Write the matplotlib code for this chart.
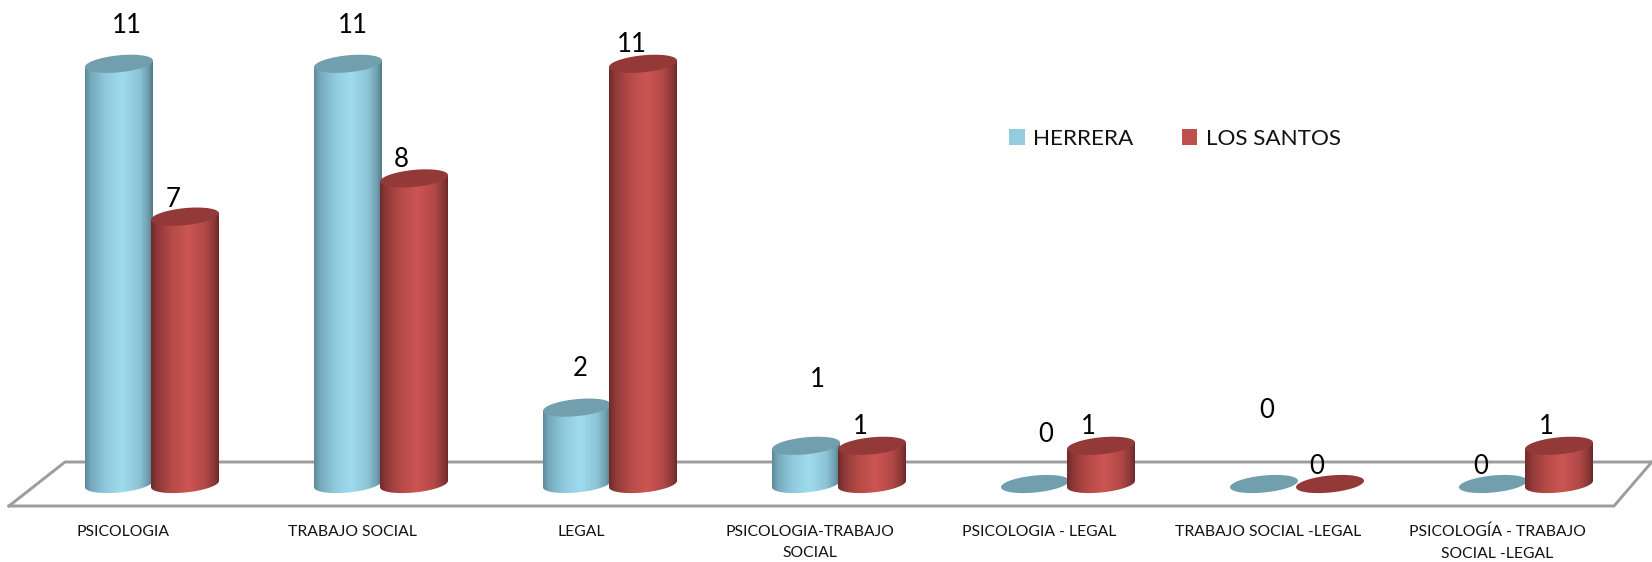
import numpy as np
import matplotlib
matplotlib.use("Agg")
import matplotlib.pyplot as plt
from matplotlib.colors import LinearSegmentedColormap
from matplotlib.patches import Patch, PathPatch
from matplotlib.path import Path

categories = ["PSICOLOGIA", "TRABAJO SOCIAL", "LEGAL", "PSICOLOGIA-TRABAJO\nSOCIAL",
              "PSICOLOGIA - LEGAL", "TRABAJO SOCIAL -LEGAL", "PSICOLOGÍA - TRABAJO\nSOCIAL -LEGAL"]
herrera = [11, 11, 2, 1, 0, 0, 0]
los_santos = [7, 8, 11, 1, 1, 0, 1]
series_names = ["HERRERA", "LOS SANTOS"]

# layout (pixels)
W, H = 1652, 562
PX_X, PX_Y = 229.0, 38.2
X0, Y0 = 151.0, 484.0
FRONT = 506.0
BAR_W = 68
ELL_H = 8.5
TILT = 3.2
herrera_off = [(9, -38), (6, -38), (4, -39), (12, -66), (12, -49), (4, -74), (-11, -17)]
santos_off = [(-12, -17), (-13, -19), (-11, -19), (-12, -19), (-13, -19), (-13, -17), (-13, -19)]

plt.rcParams["font.family"] = ["Lato", "DejaVu Sans"]
fig = plt.figure(figsize=(W / 100, H / 100), dpi=100)
ax = fig.add_axes([0, (H - FRONT) / H, 1, FRONT / H])
xlim = (-X0 / PX_X, (W - X0) / PX_X)
ylim = ((Y0 - FRONT) / PX_Y, Y0 / PX_Y)


def px(x, y):
    return (x - X0) / PX_X, (Y0 - y) / PX_Y


floor = [px(9, FRONT), px(65, 462), px(W + 5, 462)]
ax.plot(*zip(*floor), color="#9c9c9c", lw=2.1, clip_on=False, zorder=1, solid_joinstyle="miter")
front = [px(9, FRONT), px(1614, FRONT), px(W + 5, 456)]
ax.plot(*zip(*front), color="#9c9c9c", lw=2.1, clip_on=False, zorder=1, solid_joinstyle="miter")

blue_cm = LinearSegmentedColormap.from_list("b", [(0, "#5d8a9a"), (.08, "#74a8ba"), (.3, "#8fcadc"),
                                                  (.55, "#9fdbee"), (.8, "#8cc4d6"), (.93, "#6f9fb0"), (1, "#517a89")])
red_cm = LinearSegmentedColormap.from_list("r", [(0, "#6f2b2a"), (.1, "#913a39"), (.3, "#b54a48"),
                                                 (.55, "#cc5553"), (.8, "#b24947"), (.93, "#8c3938"), (1, "#6d2a29")])


def cylinder(center_px, value, cmap, top_color, z):
    t = np.linspace(0, 2 * np.pi, 80)
    a = BAR_W / 2
    ex = a * np.cos(t)
    ey = ELL_H * np.sin(t) - TILT * np.cos(t)
    base_y = -value * PX_Y
    if value > 0:
        lo = np.linspace(0, np.pi, 40)
        xs = np.r_[a * np.cos(lo), -a, a]
        ys = np.r_[ELL_H * np.sin(lo) - TILT * np.cos(lo), base_y + TILT, base_y - TILT]
        dx = (center_px + xs - X0) / PX_X
        dy = (Y0 - (Y0 + ys)) / PX_Y
        verts = np.c_[dx, dy]
        path = Path(np.r_[verts, verts[:1]], closed=True)
        patch = PathPatch(path, fc="none", ec="none", transform=ax.transData)
        ax.add_patch(patch)
        l, r = (center_px - a - X0) / PX_X, (center_px + a - X0) / PX_X
        im = ax.imshow(np.linspace(0, 1, 200)[None, :], cmap=cmap, aspect="auto",
                       extent=(l, r, -0.5, value + 1), zorder=z, interpolation="bilinear")
        im.set_clip_path(patch)
    top = value * PX_Y
    ax.fill((center_px + ex - X0) / PX_X, (top - ey) / PX_Y, color=top_color, lw=0, zorder=z + 0.1)


for i, (a, b) in enumerate(zip(herrera, los_santos)):
    cylinder(X0 + PX_X * i - 32, a, blue_cm, "#729fae", 2 + i * 0.01)
    cylinder(X0 + PX_X * i + 34, b, red_cm, "#933938", 3 + i * 0.01)

for i, v in enumerate(herrera):
    ax.annotate(str(v), (i - 33 / PX_X, v), xytext=(herrera_off[i][0] * .72, -herrera_off[i][1] * .72),
                textcoords="offset points", ha="center", va="center", fontsize=18.5, color="black", zorder=6)
for i, v in enumerate(los_santos):
    ax.annotate(str(v), (i + 34 / PX_X, v), xytext=(santos_off[i][0] * .72, -santos_off[i][1] * .72),
                textcoords="offset points", ha="center", va="center", fontsize=18.5, color="black", zorder=6)

ax.set_xlim(xlim)
ax.set_ylim(ylim)
ax.set_yticks([])
ax.set_xticks(np.arange(len(categories)) - 28 / PX_X)
ax.set_xticklabels(categories, fontsize=11.3, linespacing=1.68, color="#111111")
ax.tick_params(axis="x", length=0, pad=13.5)
for s in ax.spines.values():
    s.set_visible(False)
ax.patch.set_visible(False)

handles = [Patch(fc="#93cddd"), Patch(fc="#c0504d")]
fig.legend(handles, series_names, loc="center left", bbox_to_anchor=(989 / W, 1 - 139 / H), ncol=2,
           frameon=False, fontsize=16.2, handlelength=0.69, handleheight=0.69, handletextpad=0.38,
           columnspacing=2.15, labelcolor="#111111")

fig.savefig("out.png", dpi=100)
